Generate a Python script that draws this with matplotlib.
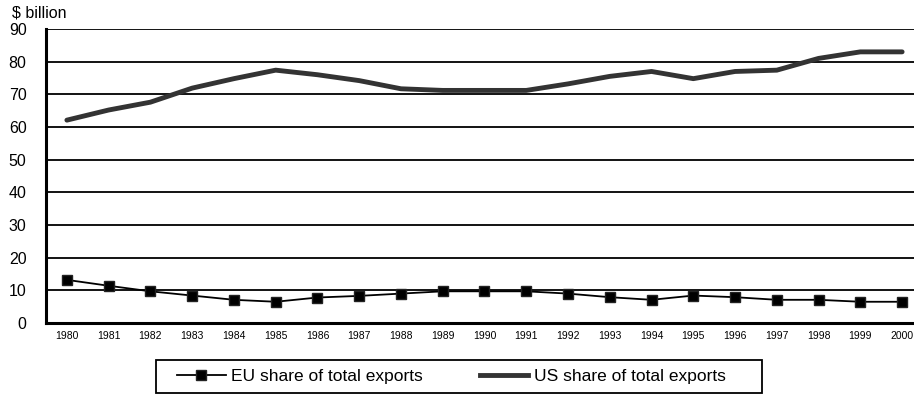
import matplotlib
matplotlib.use("Agg")
import matplotlib.pyplot as plt
from matplotlib.lines import Line2D
from matplotlib.patches import Rectangle

years = ["1980", "1981", "1982", "1983", "1984", "1985", "1986", "1987", "1988", "1989",
         "1990", "1991", "1992", "1993", "1994", "1995", "1996", "1997", "1998", "1999", "2000"]
eu_share = [13.2, 11.4, 9.7, 8.4, 7.1, 6.5, 7.8, 8.3, 9.0, 9.7,
            9.7, 9.7, 9.0, 7.9, 7.1, 8.4, 7.9, 7.1, 7.1, 6.5, 6.5]
us_share = [62.1, 65.2, 67.6, 71.9, 74.8, 77.4, 76.0, 74.2, 71.7, 71.2,
            71.2, 71.2, 73.2, 75.5, 77.0, 74.8, 77.0, 77.4, 81.0, 83.0, 83.0]
y_ticks = [0, 10, 20, 30, 40, 50, 60, 70, 80, 90]

plt.rcParams['font.family'] = ['Liberation Sans', 'DejaVu Sans']

W, H = 914, 394
fig = plt.figure(figsize=(W/100, H/100), dpi=100)
ax = fig.add_axes([46/W, 1-323/H, 877/W, (323-29)/H])

x = list(range(len(years)))
ax.plot(x, us_share, color='#333333', linewidth=3.5, solid_capstyle='round', zorder=3)
ax.plot(x, eu_share, color='black', linewidth=1.3, marker='s', markersize=6.5,
        markerfacecolor='black', markeredgecolor='#222222', zorder=4)

ax.set_xlim(-0.5, len(years)-0.5)
ax.set_ylim(0, 90)
ax.set_yticks(y_ticks)
ax.set_yticklabels([str(v) for v in y_ticks], fontsize=11.5)
ax.set_xticks(x)
ax.set_xticklabels(years, fontsize=7.5)
ax.tick_params(axis='both', length=0)
ax.tick_params(axis='y', pad=14)
ax.tick_params(axis='x', pad=6)

for v in y_ticks[1:]:
    ax.axhline(v, color='black', linewidth=1.3, zorder=1)

ax.spines['top'].set_visible(False)
ax.spines['right'].set_visible(False)
ax.spines['left'].set_linewidth(2.2)
ax.spines['bottom'].set_linewidth(2.2)

fig.text(12/W, 1-13/H, "$ billion", fontsize=11.5, va='center', ha='left')

# legend frame
fig.patches.append(Rectangle((156/W, 1-393/H), (762-156)/W, (393-360)/H,
                             transform=fig.transFigure, fill=False,
                             edgecolor='black', linewidth=1.3))

handles = [
    Line2D([], [], color='black', linewidth=1.3, marker='s', markersize=6.5,
           markerfacecolor='black', markeredgecolor='#222222'),
    Line2D([], [], color='#333333', linewidth=3.5),
]
leg = fig.legend(handles, ["EU share of total exports", "US share of total exports"],
                 loc='center left', bbox_to_anchor=(177/W, 1-376.5/H),
                 ncol=2, fontsize=12.5, frameon=False,
                 handlelength=2.8, handletextpad=0.3, borderpad=0, columnspacing=3.3,
                 borderaxespad=0)

fig.savefig("out.png", dpi=100)
